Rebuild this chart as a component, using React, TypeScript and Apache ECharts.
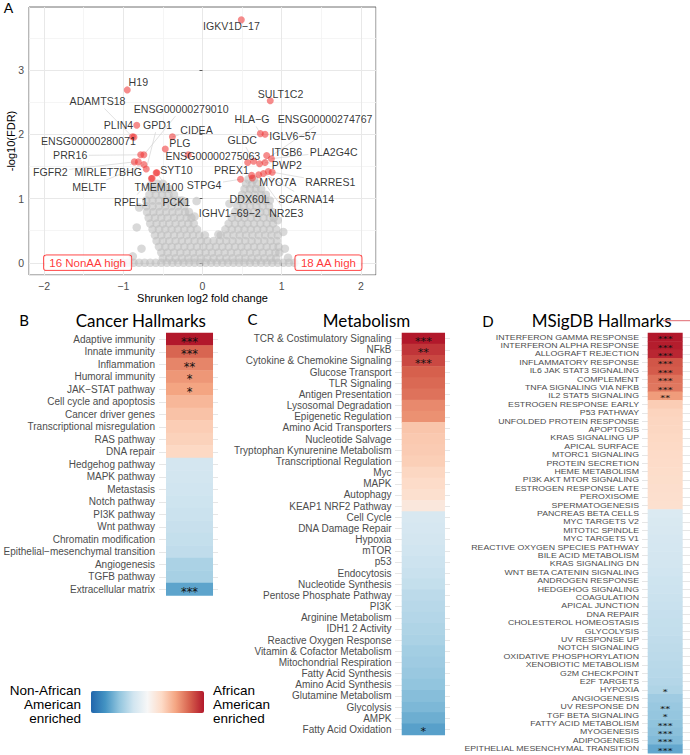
import React, { useEffect, useRef } from "react";
import * as echarts from "echarts";

// ---------------- Panel A: volcano ----------------
// gray cloud, typed row by row: [ -log10(FDR), [log2FC, ...] ]
const cloudRows: [number, number[]][] = [
  [0.0, [-1.15, -1.08, -1.01, -0.94, -0.87, -0.8, -0.73, -0.66, -0.59, -0.52, -0.45, -0.38, -0.31, -0.24, -0.17, -0.1, -0.03, 0.04, 0.11, 0.18, 0.25, 0.32, 0.39, 0.46, 0.53, 0.6, 0.67, 0.74, 0.81, 0.88, 0.95, 1.02, 1.09, 1.16]],
  [0.07, [-0.5, -0.42, -0.34, -0.26, -0.18, -0.1, -0.02, 0.06, 0.14, 0.22, 0.3, 0.38, 0.46, 0.54, 0.62, 0.7, 0.78, 0.86, 0.93]],
  [0.16, [-0.52, -0.44, -0.36, -0.28, -0.2, -0.12, -0.04, 0.04, 0.12, 0.2, 0.28, 0.36, 0.44, 0.52, 0.6, 0.68, 0.76, 0.84, 0.92, 0.97]],
  [0.25, [-0.55, -0.47, -0.39, -0.31, -0.23, -0.15, -0.07, 0.01, 0.09, 0.17, 0.25, 0.33, 0.41, 0.49, 0.57, 0.65, 0.73, 0.81, 0.89, 0.96]],
  [0.34, [-0.58, -0.5, -0.42, -0.34, -0.26, -0.18, -0.1, -0.02, 0.06, 0.14, 0.22, 0.3, 0.38, 0.46, 0.54, 0.62, 0.7, 0.78, 0.86, 0.94]],
  [0.43, [-0.6, -0.52, -0.44, -0.36, -0.28, -0.2, -0.12, -0.04, 0.03, 0.23, 0.31, 0.39, 0.47, 0.55, 0.63, 0.71, 0.79, 0.87, 0.95]],
  [0.52, [-0.63, -0.55, -0.47, -0.39, -0.31, -0.23, -0.15, -0.07, 0.29, 0.37, 0.45, 0.53, 0.61, 0.69, 0.77, 0.85, 0.93]],
  [0.61, [-0.66, -0.58, -0.5, -0.42, -0.34, -0.26, -0.18, -0.11, 0.33, 0.41, 0.49, 0.57, 0.65, 0.73, 0.81, 0.89]],
  [0.7, [-0.68, -0.6, -0.52, -0.44, -0.36, -0.28, -0.2, -0.14, 0.37, 0.45, 0.53, 0.61, 0.69, 0.77, 0.85, 0.9]],
  [0.79, [-0.7, -0.62, -0.54, -0.46, -0.38, -0.3, -0.22, -0.17, 0.41, 0.49, 0.57, 0.65, 0.73, 0.81, 0.88]],
  [0.88, [-0.71, -0.63, -0.55, -0.47, -0.39, -0.31, -0.23, 0.44, 0.52, 0.6, 0.68, 0.76, 0.84]],
  [0.97, [-0.71, -0.63, -0.55, -0.47, -0.39, -0.31, -0.26, 0.47, 0.55, 0.63, 0.71, 0.79, 0.85]],
  [1.06, [-0.67, -0.59, -0.51, -0.43, -0.36, 0.5, 0.58, 0.66, 0.74, 0.8]],
  [1.15, [-0.62, -0.55, -0.48, -0.42, 0.53, 0.6, 0.67, 0.74]],
  [1.23, [-0.57, -0.5, 0.55, 0.62, 0.69]],
  [1.3, [0.58, 0.65]],
];
const cloudOutliers: [number, number][] = [
  [-0.22, 0.95], [-0.075, 0.96], [-0.8, 0.86], [-0.83, 0.55], [-0.77, 0.22], [-0.88, 0.1],
  [1.02, 0.48], [1.04, 0.22], [0.95, 0.66], [1.08, 0.08], [0.2, 0.44], [-0.1, 0.72], [0.34, 0.92], [-0.66, 1.2],
];

const geneNames = [
  "IGKV1D−17", "H19", "SULT1C2", "ADAMTS18", "ENSG00000279010", "PLIN4", "GPD1", "HLA−G",
  "ENSG00000274767", "CIDEA", "ENSG00000280071", "GLDC", "IGLV6−57", "PLG", "ENSG00000275063",
  "PRR16", "ITGB6", "PLA2G4C", "FGFR2", "MIRLET7BHG", "SYT10", "PREX1", "PWP2", "MELTF",
  "TMEM100", "STPG4", "MYO7A", "RARRES1", "RPEL1", "PCK1", "DDX60L", "SCARNA14", "IGHV1−69−2", "NR2E3",
];
const geneLog2FC = [
  0.49, -0.95, 0.855, -0.885, -0.74, -0.83, -0.71, 0.73,
  0.72, -0.38, -0.865, 0.645, 0.79, -0.47, -0.18,
  -0.78, 0.81, 0.87, -0.86, -0.81, -0.585, 0.57, 0.79, -0.74,
  -0.635, 0.48, 0.83, 0.88, -0.645, -0.575, 0.63, 0.77, 0.62, 0.71,
];
const geneNegLog10FDR = [
  3.78, 2.69, 2.52, 1.96, 1.68, 2.14, 1.46, 2.01,
  1.54, 1.96, 1.955, 1.58, 2.0, 1.77, 1.68,
  1.68, 1.67, 1.62, 1.57, 1.57, 1.4, 1.56, 1.56, 1.53,
  1.315, 1.3, 1.42, 1.41, 1.31, 1.4, 1.32, 1.39, 1.36, 1.37,
];
const labelLog2FC = [
  0.365, -0.81, 0.985, -1.325, -0.27, -1.06, -0.57, 0.625,
  1.547, -0.075, -1.44, 0.5, 1.14, -0.285, 0.13,
  -1.67, 1.065, 1.656, -1.92, -1.19, -0.33, 0.365, 1.065, -1.43,
  -0.55, 0.02, 0.95, 1.614, -0.905, -0.33, 0.595, 1.308, 0.344, 1.057,
];
const labelNegLog10FDR = [
  3.68, 2.82, 2.63, 2.51, 2.39, 2.14, 2.14, 2.23,
  2.23, 2.07, 1.9, 1.91, 1.98, 1.865, 1.665,
  1.67, 1.73, 1.73, 1.42, 1.42, 1.44, 1.45, 1.52, 1.18,
  1.18, 1.21, 1.25, 1.25, 0.95, 0.95, 1.0, 1.0, 0.776, 0.776,
];
const annotationTexts = ["16 NonAA high", "18 AA high"];
const annotationLog2FC = [-1.45, 1.59];
const annotationNegLog10FDR = [0, 0];
const volcanoXTicks = [-2, -1, 0, 1, 2];
const volcanoYTicks = [0, 1, 2, 3];

// ---------------- Panel B ----------------
const cancerHallmarks = [
  "Adaptive immunity", "Innate immunity", "Inflammation", "Humoral immunity", "JAK−STAT pathway",
  "Cell cycle and apoptosis", "Cancer driver genes", "Transcriptional misregulation", "RAS pathway",
  "DNA repair", "Hedgehog pathway", "MAPK pathway", "Metastasis", "Notch pathway", "PI3K pathway",
  "Wnt pathway", "Chromatin modification", "Epithelial−mesenchymal transition", "Angiogenesis",
  "TGFB pathway", "Extracellular matrix",
];
const cancerScores = [3.0, 2.2, 1.85, 1.65, 1.5, 1.25, 1.1, 0.95, 0.88, 0.78, -0.7, -0.72, -0.75, -0.78, -0.82, -0.86, -0.9, -0.95, -1.2, -1.25, -2.0];
const cancerStars = ["***", "***", "**", "*", "*", "", "", "", "", "", "", "", "", "", "", "", "", "", "", "", "***"];

// ---------------- Panel C ----------------
const metabolism = [
  "TCR & Costimulatory Signaling", "NFkB", "Cytokine & Chemokine Signaling", "Glucose Transport",
  "TLR Signaling", "Antigen Presentation", "Lysosomal Degradation", "Epigenetic Regulation",
  "Amino Acid Transporters", "Nucleotide Salvage", "Tryptophan Kynurenine Metabolism",
  "Transcriptional Regulation", "Myc", "MAPK", "Autophagy", "KEAP1 NRF2 Pathway", "Cell Cycle",
  "DNA Damage Repair", "Hypoxia", "mTOR", "p53", "Endocytosis", "Nucleotide Synthesis",
  "Pentose Phosphate Pathway", "PI3K", "Arginine Metabolism", "IDH1 2 Activity",
  "Reactive Oxygen Response", "Vitamin & Cofactor Metabolism", "Mitochondrial Respiration",
  "Fatty Acid Synthesis", "Amino Acid Synthesis", "Glutamine Metabolism", "Glycolysis", "AMPK",
  "Fatty Acid Oxidation",
];
const metabolismScores = [3.0, 2.7, 2.5, 2.25, 2.15, 2.05, 1.8, 1.72, 1.05, 1.0, 0.97, 0.92, 0.8, 0.72, 0.62, 0.42,
  -0.62, -0.66, -0.7, -0.75, -0.8, -0.85, -0.9, -1.0, -1.05, -1.1, -1.15, -1.2, -1.3, -1.35, -1.42, -1.5, -1.6, -1.7, -1.85, -2.05];
const metabolismStars = ["***", "**", "***", "", "", "", "", "", "", "", "", "", "", "", "", "", "", "", "", "", "", "", "", "", "", "", "", "", "", "", "", "", "", "", "", "*"];

// ---------------- Panel D ----------------
const msigdb = [
  "INTERFERON GAMMA RESPONSE", "INTERFERON ALPHA RESPONSE", "ALLOGRAFT REJECTION", "INFLAMMATORY RESPONSE",
  "IL6 JAK STAT3 SIGNALING", "COMPLEMENT", "TNFA SIGNALING VIA NFKB", "IL2 STAT5 SIGNALING",
  "ESTROGEN RESPONSE EARLY", "P53 PATHWAY", "UNFOLDED PROTEIN RESPONSE", "APOPTOSIS", "KRAS SIGNALING UP",
  "APICAL SURFACE", "MTORC1 SIGNALING", "PROTEIN SECRETION", "HEME METABOLISM", "PI3K AKT MTOR SIGNALING",
  "ESTROGEN RESPONSE LATE", "PEROXISOME", "SPERMATOGENESIS", "PANCREAS BETA CELLS", "MYC TARGETS V2",
  "MITOTIC SPINDLE", "MYC TARGETS V1", "REACTIVE OXYGEN SPECIES PATHWAY", "BILE ACID METABOLISM",
  "KRAS SIGNALING DN", "WNT BETA CATENIN SIGNALING", "ANDROGEN RESPONSE", "HEDGEHOG SIGNALING",
  "COAGULATION", "APICAL JUNCTION", "DNA REPAIR", "CHOLESTEROL HOMEOSTASIS", "GLYCOLYSIS",
  "UV RESPONSE UP", "NOTCH SIGNALING", "OXIDATIVE PHOSPHORYLATION", "XENOBIOTIC METABOLISM",
  "G2M CHECKPOINT", "E2F TARGETS", "HYPOXIA", "ANGIOGENESIS", "UV RESPONSE DN", "TGF BETA SIGNALING",
  "FATTY ACID METABOLISM", "MYOGENESIS", "ADIPOGENESIS", "EPITHELIAL MESENCHYMAL TRANSITION",
];
const msigdbScores = [3.0, 2.95, 2.85, 2.35, 2.3, 2.05, 2.0, 1.6, 0.95, 0.85, 0.82, 0.8, 0.78, 0.76, 0.74, 0.72, 0.7, 0.68, 0.66, 0.64, 0.62,
  -0.55, -0.6, -0.62, -0.65, -0.68, -0.7, -0.72, -0.75, -0.78, -0.8, -0.82, -0.85, -0.88, -0.9, -0.92, -0.95, -0.98, -1.0, -1.03, -1.06,
  -1.09, -1.15, -1.35, -1.42, -1.47, -1.52, -1.57, -1.65, -1.95];
const msigdbStars = ["***", "***", "***", "***", "***", "***", "***", "**", "", "", "", "", "", "", "", "", "", "", "", "", "",
  "", "", "", "", "", "", "", "", "", "", "", "", "", "", "", "", "", "", "", "",
  "", "*", "", "**", "*", "***", "***", "***", "***"];

const legendLeftText = "Non-African\nAmerican\nenriched";
const legendRightText = "African\nAmerican\nenriched";

const RDBU = ["#2166ac", "#4393c3", "#92c5de", "#d1e5f0", "#f7f7f7", "#fddbc7", "#f4a582", "#d6604d", "#b2182b"];
const SANS = '"Liberation Sans", Arial, Helvetica, sans-serif';
const STAR_FONT = '"DejaVu Sans", "Liberation Sans", sans-serif';
const TITLE_FONT = 'Lato, "Open Sans", sans-serif';
const LABEL_FONT_SIZE = 10.6;

let measureCtx: CanvasRenderingContext2D | null = null;
function textWidth(t: string, font: string) {
  if (!measureCtx) measureCtx = document.createElement("canvas").getContext("2d");
  if (!measureCtx) return t.length * 6;
  measureCtx.font = font;
  return measureCtx.measureText(t).width;
}

function heatAxes(gridIndex: number, names: string[], xmin: number, xmax: number, fs: number, margin: number, showLabels: boolean) {
  return {
    x: { type: "value", gridIndex, min: xmin, max: xmax, show: false },
    y: {
      type: "category", gridIndex, data: names, inverse: true,
      axisLine: { show: false }, axisTick: { show: false },
      axisLabel: { show: showLabels, interval: 0, color: "#4d4d4d", fontSize: fs, fontFamily: SANS, margin },
      splitLine: { show: true, interval: 0, alignWithLabel: true, lineStyle: { color: "#e6e6e6", width: 1 } },
    },
  };
}

type RowText = { names: string[]; xmin: number; size: number; scaleX: number; gap: number } | null;

function heatSeries(axisIndex: number, scores: number[], stars: string[], starSize: number, starScaleX: number, starDy: number, rowText: RowText) {
  return {
    type: "custom", xAxisIndex: axisIndex, yAxisIndex: axisIndex, z: 3, clip: false,
    encode: { x: 0, y: 1 },
    data: scores.map((s, i) => [s, i]),
    renderItem: (params: any, api: any) => {
      const idx = api.value(1);
      const a = api.coord([0, idx]);
      const b = api.coord([1, idx]);
      const h = api.size([0, 1])[1];
      const children: any[] = [{
        type: "rect",
        shape: { x: a[0], y: a[1] - h / 2 - 0.3, width: b[0] - a[0], height: h + 0.6 },
        style: { fill: api.visual("color") },
      }];
      if (stars[idx]) {
        children.push({
          type: "text",
          x: (a[0] + b[0]) / 2, y: a[1] + starDy, scaleX: starScaleX,
          style: {
            text: stars[idx], x: 0, y: 0,
            align: "center", verticalAlign: "middle", fill: "#111",
            font: `${starSize}px ${STAR_FONT}`,
          },
        });
      }
      if (rowText) {
        const g = api.coord([rowText.xmin, idx]);
        children.push({
          type: "text",
          x: g[0] - rowText.gap, y: a[1], scaleX: rowText.scaleX,
          style: {
            text: rowText.names[idx], x: 0, y: 0,
            align: "right", verticalAlign: "middle", fill: "#4d4d4d",
            font: `${rowText.size}px ${SANS}`,
          },
        });
      }
      return { type: "group", children };
    },
  };
}

export default function App() {
  const ref = useRef<HTMLDivElement>(null);
  useEffect(() => {
    if (!ref.current) return;
    const chart = echarts.init(ref.current, null, { renderer: "svg" });

    const cloud: number[][] = [];
    cloudRows.forEach(([y, xs]) => xs.forEach((x) => cloud.push([x, y])));
    cloudOutliers.forEach((p) => cloud.push([p[0], p[1]]));

    const labelFont = `${LABEL_FONT_SIZE}px ${SANS}`;

    const dMin = -0.163;
    const B = heatAxes(1, cancerHallmarks, -0.149, 1.106, 10, 4, true);
    const C = heatAxes(2, metabolism, -0.155, 1.115, 10, 3.5, true);
    const D = heatAxes(3, msigdb, dMin, 1.209, 8.3, 3, false);

    const option: any = {
      animation: false,
      backgroundColor: "#ffffff",
      grid: [
        { left: 29, top: 7, width: 347, height: 268, show: true, borderColor: "#4d4d4d", borderWidth: 0.8, backgroundColor: "rgba(0,0,0,0)", containLabel: false, outerBoundsMode: "none" },
        { left: 159, top: 333, width: 59, height: 262.5, containLabel: false, outerBoundsMode: "none" },
        { left: 395, top: 333, width: 55, height: 402, containLabel: false, outerBoundsMode: "none" },
        { left: 642, top: 333.1, width: 48, height: 420, containLabel: false, outerBoundsMode: "none" },
      ],
      xAxis: [
        {
          type: "value", gridIndex: 0, min: -2.19, max: 2.19, minInterval: 1, maxInterval: 1,
          axisLine: { show: false },
          axisTick: { show: true, length: 3, customValues: volcanoXTicks, lineStyle: { color: "#333", width: 0.8 } },
          axisLabel: {
            customValues: volcanoXTicks, color: "#4d4d4d", fontSize: 10.5, fontFamily: SANS, margin: 5,
            formatter: (v: number) => String(v).replace("-", "−"),
          },
          splitLine: { show: true, lineStyle: { color: "#e8e8e8", width: 1 } },
          name: "Shrunken log2 fold change", nameLocation: "middle", nameGap: 17, nameMoveOverlap: false,
          nameTextStyle: { color: "#000", fontSize: 11, fontFamily: SANS },
        },
        {
          type: "value", gridIndex: 0, min: -2.19, max: 2.19, minInterval: 0.5, maxInterval: 0.5,
          axisLine: { show: false }, axisTick: { show: false }, axisLabel: { show: false },
          splitLine: { show: true, lineStyle: { color: ["#f3f3f3", "rgba(0,0,0,0)"], width: 0.8 } },
        },
        B.x, C.x, D.x,
      ],
      yAxis: [
        {
          type: "value", gridIndex: 0, min: -0.19, max: 3.98, minInterval: 1, maxInterval: 1,
          axisLine: { show: false },
          axisTick: { show: true, length: 3, customValues: volcanoYTicks, lineStyle: { color: "#333", width: 0.8 } },
          axisLabel: { customValues: volcanoYTicks, color: "#4d4d4d", fontSize: 10.5, fontFamily: SANS, margin: 5 },
          splitLine: { show: true, lineStyle: { color: "#e8e8e8", width: 1 } },
          name: "-log10(FDR)", nameLocation: "middle", nameGap: 13, nameMoveOverlap: false,
          nameTextStyle: { color: "#000", fontSize: 11, fontFamily: SANS },
        },
        {
          type: "value", gridIndex: 0, min: -0.19, max: 3.98, minInterval: 0.5, maxInterval: 0.5,
          axisLine: { show: false }, axisTick: { show: false }, axisLabel: { show: false },
          splitLine: { show: true, lineStyle: { color: ["#f3f3f3", "rgba(0,0,0,0)"], width: 0.8 } },
        },
        B.y, C.y, D.y,
      ],
      visualMap: {
        type: "continuous", show: false, seriesIndex: [5, 6, 7], dimension: 0,
        min: -3, max: 3, inRange: { color: RDBU },
      },
      series: [
        {
          type: "scatter", xAxisIndex: 0, yAxisIndex: 0, data: cloud, symbolSize: 8.5,
          itemStyle: { color: "rgba(188,188,188,0.7)" }, silent: true, z: 2,
        },
        {
          type: "custom", xAxisIndex: 0, yAxisIndex: 0, z: 3, silent: true,
          encode: { x: [0, 2], y: [1, 3] },
          data: geneNames.map((_, i) => [geneLog2FC[i], geneNegLog10FDR[i], labelLog2FC[i], labelNegLog10FDR[i], i]),
          renderItem: (params: any, api: any) => {
            const i = api.value(4);
            const p = api.coord([api.value(0), api.value(1)]);
            const c = api.coord([api.value(2), api.value(3)]);
            const hw = textWidth(geneNames[i], labelFont) / 2 + 1.5;
            const hh = 7;
            const dx = p[0] - c[0];
            const dy = p[1] - c[1];
            if (Math.abs(dx) <= hw && Math.abs(dy) <= hh) return { type: "group", children: [] };
            const t = Math.min(Math.abs(dx) > 1e-6 ? hw / Math.abs(dx) : 1e9, Math.abs(dy) > 1e-6 ? hh / Math.abs(dy) : 1e9);
            const sx = c[0] + dx * t;
            const sy = c[1] + dy * t;
            const len = Math.hypot(p[0] - sx, p[1] - sy);
            if (len < 5) return { type: "group", children: [] };
            return {
              type: "line",
              shape: { x1: sx, y1: sy, x2: p[0], y2: p[1] },
              style: { stroke: "#d4d4d4", lineWidth: 0.7 },
            };
          },
        },
        {
          type: "scatter", xAxisIndex: 0, yAxisIndex: 0, symbolSize: 7, z: 4, silent: true,
          data: geneNames.map((_, i) => [geneLog2FC[i], geneNegLog10FDR[i]]),
          itemStyle: { color: "rgba(240,55,55,0.72)" },
        },
        {
          type: "scatter", xAxisIndex: 0, yAxisIndex: 0, symbolSize: 1, z: 5, silent: true,
          data: geneNames.map((n, i) => ({ name: n, value: [labelLog2FC[i], labelNegLog10FDR[i]] })),
          itemStyle: { color: "rgba(0,0,0,0)" },
          label: {
            show: true, position: "inside", formatter: "{b}", color: "#000",
            fontSize: LABEL_FONT_SIZE, fontFamily: SANS,
          },
        },
        {
          type: "scatter", xAxisIndex: 0, yAxisIndex: 0, symbolSize: 1, z: 6, silent: true,
          data: annotationTexts.map((n, i) => ({ name: n, value: [annotationLog2FC[i], annotationNegLog10FDR[i]] })),
          itemStyle: { color: "rgba(0,0,0,0)" },
          label: {
            show: true, position: "inside", formatter: "{b}", color: "#ff0000",
            fontSize: 11.5, fontFamily: SANS, backgroundColor: "#ffffff",
            borderColor: "#ff0000", borderWidth: 0.8, borderRadius: 2.5, padding: [2, 5, 1, 5],
          },
        },
        heatSeries(2, cancerScores, cancerStars, 11.4, 1.0, 2.6, null),
        heatSeries(3, metabolismScores, metabolismStars, 11, 1.03, 2.5, null),
        heatSeries(4, msigdbScores, msigdbStars, 7.2, 1.36, 1.4, { names: msigdb, xmin: dMin, size: 7.5, scaleX: 1.17, gap: 3 }),
      ],
      graphic: [
        { type: "text", x: 8.5, y: 7.8, style: { text: "A", font: `14px ${TITLE_FONT}`, fill: "#000", align: "center", verticalAlign: "middle" } },
        { type: "text", x: 24, y: 320, style: { text: "B", font: `15px ${TITLE_FONT}`, fill: "#000", align: "center", verticalAlign: "middle" } },
        { type: "text", x: 252.5, y: 318.5, style: { text: "C", font: `15px ${TITLE_FONT}`, fill: "#000", align: "center", verticalAlign: "middle" } },
        { type: "text", x: 488, y: 320.5, style: { text: "D", font: `15px ${TITLE_FONT}`, fill: "#000", align: "center", verticalAlign: "middle" } },
        { type: "text", x: 140.8, y: 320, style: { text: "Cancer Hallmarks", font: `17px ${TITLE_FONT}`, fill: "#000", align: "center", verticalAlign: "middle" } },
        { type: "text", x: 366.5, y: 320.5, style: { text: "Metabolism", font: `17px ${TITLE_FONT}`, fill: "#000", align: "center", verticalAlign: "middle" } },
        { type: "text", x: 601.7, y: 320, style: { text: "MSigDB Hallmarks", font: `17px ${TITLE_FONT}`, fill: "#000", align: "center", verticalAlign: "middle" } },
        { type: "line", shape: { x1: 663, y1: 320.7, x2: 690, y2: 320.7 }, style: { stroke: "#e06a72", lineWidth: 1 } },
        {
          type: "rect", shape: { x: 91, y: 691, width: 113, height: 22, r: 2 },
          style: {
            fill: new echarts.graphic.LinearGradient(0, 0, 1, 0, RDBU.map((c, i) => ({ offset: i / (RDBU.length - 1), color: c }))),
          },
        },
        { type: "text", x: 81, y: 704.5, style: { text: legendLeftText, font: `13.5px ${SANS}`, lineHeight: 13.6, fill: "#000", align: "right", verticalAlign: "middle" } },
        { type: "text", x: 213, y: 704.5, style: { text: legendRightText, font: `13.5px ${SANS}`, lineHeight: 13.6, fill: "#000", align: "left", verticalAlign: "middle" } },
      ],
    };
    chart.setOption(option);
    return () => chart.dispose();
  }, []);
  return <div ref={ref} style={{ position: "absolute", left: 0, top: 0, width: 690, height: 755 }} />;
}
